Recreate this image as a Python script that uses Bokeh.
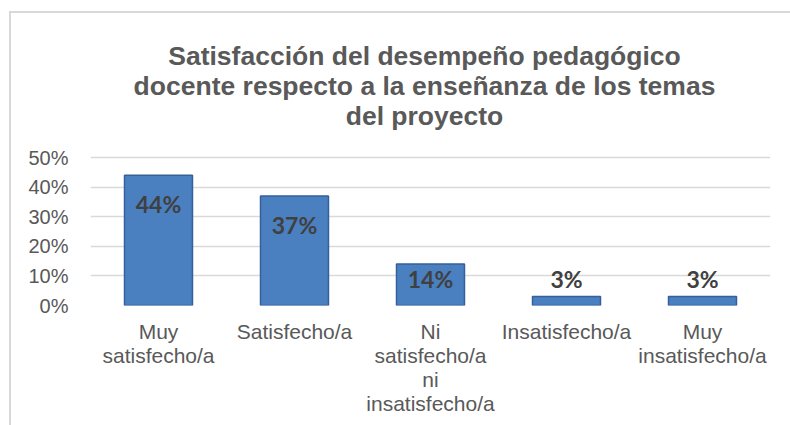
from bokeh.plotting import figure
from bokeh.models import Range1d, FixedTicker, ColumnDataSource, LinearAxis, Label
from bokeh.embed import file_html
from bokeh.resources import INLINE
from bokeh.core.properties import value

categories = ["Muy satisfecho/a", "Satisfecho/a", "Ni satisfecho/a ni insatisfecho/a",
              "Insatisfecho/a", "Muy insatisfecho/a"]
# category labels as wrapped in the chart, one list per text line
label_line1 = ["Muy", "Satisfecho/a", "Ni", "Insatisfecho/a", "Muy"]
label_line2 = ["satisfecho/a", "", "satisfecho/a", "", "insatisfecho/a"]
label_line3 = ["", "", "ni", "", ""]
label_line4 = ["", "", "insatisfecho/a", "", ""]
percent = [44, 37, 14, 3, 3]
y_ticks = [0, 10, 20, 30, 40, 50]
y_tick_labels = ["0%", "10%", "20%", "30%", "40%", "50%"]
title_lines = ["Satisfacción del desempeño pedagógico",
               "docente respecto a la enseñanza de los temas",
               "del proyecto"]

# layout (pixels)
PLOT_W, PLOT_H = 779, 412
BORDER_BOTTOM = 120
AXIS_SPAN_PX = 148          # pixel height of the 0..50% value axis
frame_h = PLOT_H - BORDER_BOTTOM
y_end = y_ticks[-1] * frame_h / AXIS_SPAN_PX   # room above 50% holds the title

x_pos = list(range(len(categories)))
label_y = [max(v - 9.7, 8.8) for v in percent]
source = ColumnDataSource(dict(x=x_pos, val=percent, ly=label_y,
                               txt=[f"{v}%" for v in percent]))

p = figure(width=PLOT_W, height=PLOT_H, x_range=Range1d(-0.5, len(categories) - 0.5),
           y_range=Range1d(0, y_end), output_backend="svg", toolbar_location=None,
           min_border_left=79, min_border_right=20, min_border_top=0,
           min_border_bottom=BORDER_BOTTOM, x_axis_type=None)
p.outline_line_color = None
p.background_fill_color = "white"
p.border_fill_color = "white"
p.styles = {"outline": "2px solid #d9d9d9", "margin-left": "11px", "margin-top": "13px"}
p.title = None

# title lines, placed in screen units from the plot frame's lower-left corner
for i, line in enumerate(title_lines):
    p.add_layout(Label(x=334, y=250 - 30 * i, x_units="screen", y_units="screen",
                       text=line, text_align="center", text_baseline="middle",
                       text_font="Liberation Sans", text_font_size="26.5px",
                       text_font_style="bold", text_color="#595959"))

p.vbar(x="x", top="val", bottom=0, width=0.5, source=source,
       fill_color="#4a7fc0", line_color="#35609a", line_width=1.5)

p.text(x="x", y="ly", text="txt", source=source, text_align="center",
       text_baseline="middle", text_font=value("Lato"), text_font_style="bold",
       text_font_size="23px", text_color="#404040")

p.ygrid.grid_line_color = "#d9d9d9"
p.ygrid.grid_line_width = 1.5
p.yaxis.ticker = FixedTicker(ticks=y_ticks)
p.yaxis.major_label_overrides = {t: l for t, l in zip(y_ticks, y_tick_labels)}
p.yaxis.major_label_text_font_size = "20px"
p.yaxis.major_label_standoff = 22


def style_axis(ax):
    ax.axis_line_color = None
    ax.major_tick_line_color = None
    ax.minor_tick_line_color = None
    ax.major_tick_out = 0
    ax.major_tick_in = 0
    ax.major_label_text_font = "Liberation Sans"
    ax.major_label_text_color = "#595959"


style_axis(p.yaxis[0])

for i, lines in enumerate([label_line1, label_line2, label_line3, label_line4]):
    ax = LinearAxis(ticker=FixedTicker(ticks=x_pos),
                    major_label_overrides={x: l if l else " " for x, l in zip(x_pos, lines)})
    style_axis(ax)
    ax.major_label_text_font_size = "21px"
    ax.major_label_standoff = 14 if i == 0 else -2
    p.add_layout(ax, "below")

open("out.html", "w").write(file_html(p, INLINE))
